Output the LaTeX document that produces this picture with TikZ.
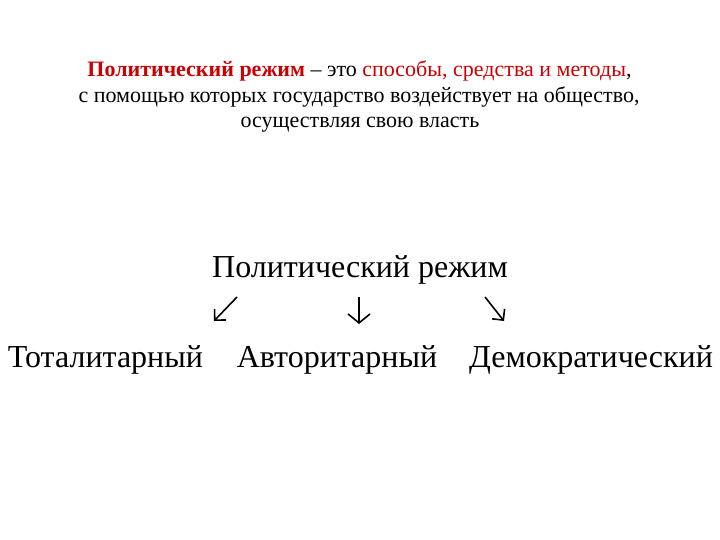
\documentclass[tikz,border=0pt]{standalone}
\usepackage{fontspec}
\setmainfont{Liberation Serif}
\usetikzlibrary{arrows.meta}
\definecolor{redtxt}{RGB}{204,0,0}
\tikzset{
  title/.style={anchor=base, inner sep=0pt, font=\fontsize{22}{26}\selectfont},
  big/.style={anchor=base, inner sep=0pt, font=\fontsize{32}{38}\selectfont},
  arr/.style={line width=1.6pt, -{Straight Barb[length=8pt,width=16pt]}},
  arrdown/.style={line width=1.6pt, -{Straight Barb[length=9pt,width=22pt]}}
}
\begin{document}
\begin{tikzpicture}[x=1pt,y=-1pt]
\useasboundingbox (0,0) rectangle (720,540);
\node[title] (t1) at (359.5,77) {\textcolor{redtxt}{\textbf{Политический режим}} – это \textcolor{redtxt}{способы, средства и методы},};
\node[title] (t2) at (359,103) {с помощью которых государство воздействует на общество,};
\node[title] (t3) at (360,128) {осуществляя свою власть};
\node[big] (root) at (360,277) {Политический режим};
\node[big] (tot) at (105.5,367) {Тоталитарный};
\node[big] (avt) at (337,367) {Авторитарный};
\node[big] (dem) at (591,367) {Демократический};
\coordinate (a1s) at (237,297); \coordinate (a1e) at (214,321);
\coordinate (a2s) at (359,297); \coordinate (a2e) at (359,324);
\coordinate (a3s) at (485,297); \coordinate (a3e) at (504,321);
\draw[arr] (a1s) -- (a1e);
\draw[arrdown] (a2s) -- (a2e);
\draw[arr] (a3s) -- (a3e);
\end{tikzpicture}
\end{document}
